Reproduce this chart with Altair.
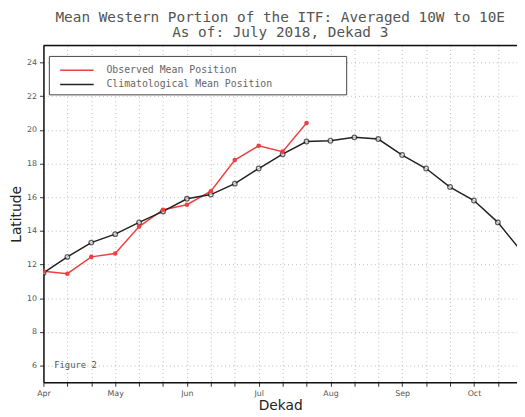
import altair as alt
import pandas as pd

months = ["Apr", "May", "Jun", "Jul", "Aug", "Sep", "Oct", "Nov"]
observed = [11.6, 11.45, 12.45, 12.65, 14.25, 15.25, 15.55, 16.35, 18.2, 19.05, 18.7, 20.4]
climatology = [11.5, 12.45, 13.3, 13.8, 14.5, 15.15, 15.9, 16.15, 16.8, 17.7, 18.55, 19.3,
               19.35, 19.55, 19.45, 18.5, 17.7, 16.6, 15.8, 14.5, 12.75]
series_names = ["Observed Mean Position", "Climatological Mean Position"]
series_colors = ["#ee4040", "#222222"]

rows = []
for i, v in enumerate(observed):
    rows.append({"dekad": i, "lat": v, "series": series_names[0]})
for i, v in enumerate(climatology):
    rows.append({"dekad": i, "lat": v, "series": series_names[1]})
df = pd.DataFrame(rows)

note = pd.DataFrame({"dekad": [0.45], "lat": [6.0], "text": ["Figure 2"]})

W, H = 481, 342
xscale = alt.Scale(domain=[0, 19.8], nice=False, zero=False)
yscale = alt.Scale(domain=[5, 25], nice=False, zero=False)

label_expr = "datum.value % 3 == 0 ? " + str(months) + "[datum.value / 3] : ''"

x = alt.X("dekad:Q", scale=xscale, title="Dekad",
          axis=alt.Axis(values=list(range(0, 20)), labelExpr=label_expr,
                        grid=True, gridDash=[1, 3], gridColor="#bbbbbb",
                        domainColor="#111", domainWidth=1.5, tickColor="#333",
                        tickSize=4, labelFontSize=8, labelColor="#555",
                        labelFont="DejaVu Sans", labelPadding=3, labelOverlap=False,
                        titleFont="DejaVu Sans", titleFontSize=14,
                        titleFontWeight="normal", titleColor="#222",
                        titleBaseline="alphabetic", titleY=28, labelFlush=False))
y = alt.Y("lat:Q", scale=yscale, title="Latitude",
          axis=alt.Axis(values=list(range(6, 25, 2)), grid=True, gridDash=[1, 3],
                        gridColor="#bbbbbb", domainColor="#111", domainWidth=1.5,
                        tickColor="#333", tickSize=4, labelFontSize=8, labelOverlap=False,
                        labelColor="#555", labelFont="DejaVu Sans", labelPadding=3,
                        titleFont="DejaVu Sans", titleFontSize=14,
                        titleFontWeight="normal", titleColor="#222",
                        titleBaseline="alphabetic", titleX=-23, titleAngle=-90))

color = alt.Color("series:N", scale=alt.Scale(domain=series_names, range=series_colors),
                  legend=None)

base = alt.Chart(df)

frame_df = pd.DataFrame({"k": [0]})
top_rule = alt.Chart(frame_df).mark_rule(color="#111", strokeWidth=1.5).encode(
    x=alt.value(0), x2=alt.value(W), y=alt.value(0))
legend_box = alt.Chart(frame_df).mark_rect(fill="white", stroke="#444", strokeWidth=1).encode(
    x=alt.value(6), x2=alt.value(308), y=alt.value(11), y2=alt.value(50))

legend_layers = []
for k, (name, col) in enumerate(zip(series_names, series_colors)):
    yy = 25 + 14.5 * k
    legend_layers.append(alt.Chart(frame_df).mark_rule(color=col, strokeWidth=1.5).encode(
        x=alt.value(17), x2=alt.value(51), y=alt.value(yy)))
    legend_layers.append(alt.Chart(frame_df).mark_text(
        text=name, align="left", baseline="middle", font="DejaVu Sans Mono",
        fontSize=10, color="#666").encode(x=alt.value(64), y=alt.value(yy)))

lines = base.mark_line(strokeWidth=1.5, clip=True).encode(x=x, y=y, color=color)
clim_pts = base.transform_filter(alt.datum.series == series_names[1]).mark_point(
    shape="circle", size=22, filled=True, fill="white", stroke="#222", strokeWidth=1.3,
    clip=True).encode(x=x, y=y)
obs_pts = base.transform_filter(alt.datum.series == series_names[0]).mark_circle(
    size=22, color=series_colors[0], opacity=1, clip=True).encode(x=x, y=y)
fig_text = alt.Chart(note).mark_text(align="left", baseline="middle", font="DejaVu Sans Mono",
                                     fontSize=9, color="#555").encode(
    x=x, y=y, text="text:N")

chart = alt.layer(legend_box, *legend_layers, lines, clim_pts, obs_pts, fig_text,
                  top_rule).properties(
    width=W, height=H,
    title=alt.TitleParams(text=["Mean Western Portion of the ITF: Averaged 10W to 10E",
                                "As of: July 2018, Dekad 3"],
                          font="DejaVu Sans Mono", fontSize=14.6, fontWeight="normal",
                          color="#555", anchor="middle", offset=5, lineHeight=15.5),
    autosize=alt.AutoSizeParams(type="none"),
    padding={"left": 36, "top": 35, "right": 0, "bottom": 30},
).configure_view(stroke=None).configure(background="white")

chart.save("out.html", embed_options={"renderer": "svg", "actions": False})
